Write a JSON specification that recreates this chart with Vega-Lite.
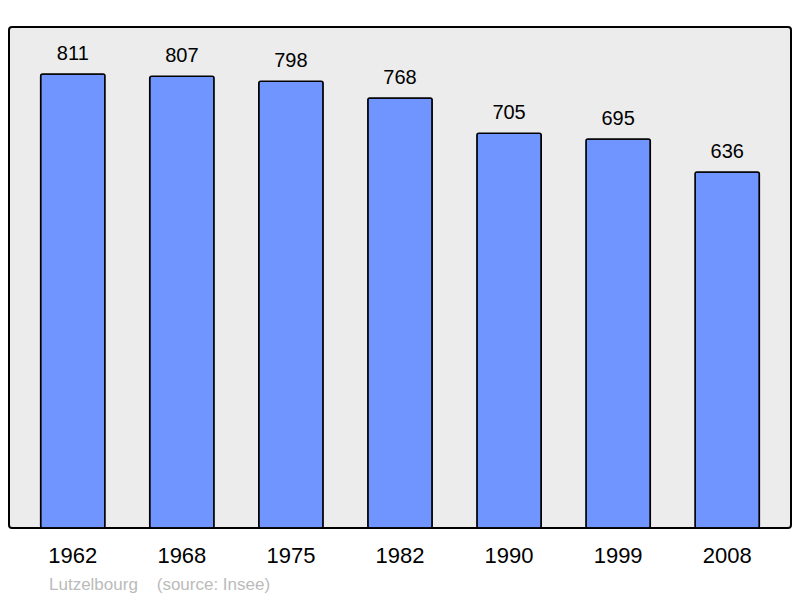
{
  "$schema": "https://vega.github.io/schema/vega-lite/v6.json",
  "width": 782,
  "height": 501,
  "autosize": "none",
  "padding": {"left": 9, "top": 27, "right": 9, "bottom": 70},
  "background": "white",
  "config": {
    "view": {"fill": "#ececec", "stroke": "black", "strokeWidth": 2, "cornerRadius": 3},
    "font": "Liberation Sans"
  },
  "title": {
    "text": "Lutzelbourg\u00a0\u00a0\u00a0\u00a0(source: Insee)",
    "orient": "bottom",
    "anchor": "start",
    "frame": "group",
    "dx": 40,
    "offset": 11,
    "fontSize": 17,
    "fontWeight": "normal",
    "color": "#bbbbbb",
    "font": "Liberation Sans"
  },
  "data": {
    "values": [
      {"year": "1962", "pop": 811},
      {"year": "1968", "pop": 807},
      {"year": "1975", "pop": 798},
      {"year": "1982", "pop": 768},
      {"year": "1990", "pop": 705},
      {"year": "1999", "pop": 695},
      {"year": "2008", "pop": 636}
    ]
  },
  "encoding": {
    "x": {
      "field": "year", "type": "ordinal",
      "scale": {"paddingInner": 0.41, "paddingOuter": 0.29},
      "axis": {"title": null, "domain": false, "ticks": false, "labelFontSize": 22, "labelColor": "black", "labelPadding": 17, "labelAngle": 0, "labelFont": "Liberation Sans"}
    },
    "y": {
      "field": "pop", "type": "quantitative",
      "scale": {"domain": [0, 895], "nice": false},
      "axis": null
    }
  },
  "layer": [
    {"mark": {"type": "bar", "fill": "#7095ff", "stroke": "black", "strokeWidth": 1.5, "cornerRadius": 2}},
    {"mark": {"type": "text", "baseline": "alphabetic", "dy": -14, "fontSize": 20, "color": "black", "font": "Liberation Sans"},
     "encoding": {"text": {"field": "pop", "type": "quantitative"}}}
  ]
}
